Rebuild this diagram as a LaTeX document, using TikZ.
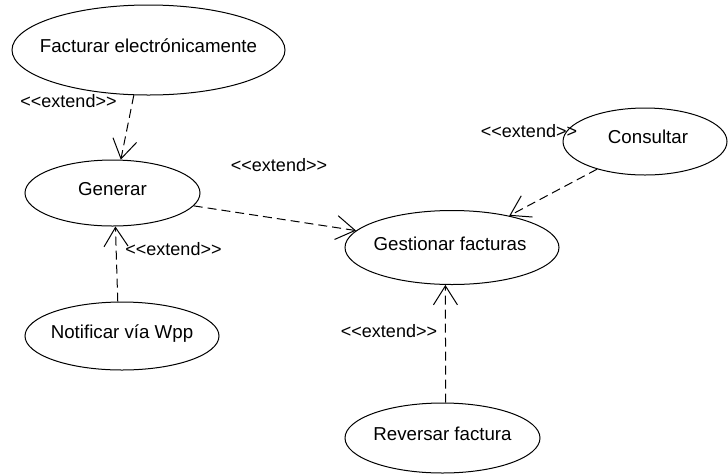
\documentclass[tikz,border=0pt]{standalone}
\usepackage{fontspec}
\setmainfont{Liberation Sans}[Ligatures=TeXOff]
\usetikzlibrary{shapes.geometric,arrows.meta}
\begin{document}
\begin{tikzpicture}[x=1pt,y=-1pt,
  usecase/.style={ellipse, draw, line width=1pt, inner sep=0pt},
  uctext/.style={font=\fontsize{18.7}{22}\selectfont, text height=13.5pt, text depth=0pt, inner sep=0pt},
  stereo/.style={font=\fontsize{18}{22}\selectfont, text height=13pt, text depth=0pt, inner sep=0pt},
  extends/.style={draw, line width=1pt, dash pattern=on 9pt off 5pt,
    -{Straight Barb[length=19pt,width=24pt]}}]
\useasboundingbox (0,0) rectangle (728,475);

% use cases
\node[usecase, minimum width=273pt, minimum height=90pt,
  label={[uctext, yshift=4pt]center:Facturar electrónicamente}] (fact) at (148.5,50) {};
\node[usecase, minimum width=175pt, minimum height=66pt,
  label={[uctext, yshift=4pt]center:Generar}] (gen) at (112.5,193) {};
\node[usecase, minimum width=194pt, minimum height=68pt,
  label={[uctext, yshift=4.5pt]center:Notificar vía Wpp}] (notif) at (122,336) {};
\node[usecase, minimum width=214pt, minimum height=74pt,
  label={[uctext, yshift=4pt, xshift=-2pt]center:Gestionar facturas}] (gest) at (452,247.5) {};
\node[usecase, minimum width=164pt, minimum height=67pt,
  label={[uctext, yshift=4.5pt, xshift=3pt]center:Consultar}] (cons) at (645,141.5) {};
\node[usecase, minimum width=195pt, minimum height=70pt,
  label={[uctext, yshift=4pt]center:Reversar factura}] (rev) at (442.5,438) {};

% extend relations
\draw[extends] (fact.-108) -- (gen.76);
\draw[extends] (gen.-9) -- (gest.170);
\draw[extends] (notif.97) -- (gen.-85);
\draw[extends] (cons.-150) -- (gest.29);
\draw[extends] (rev.85) -- (gest.-100);

% stereotypes
\node[stereo] (s1) at (68.5,101) {<<extend>>};
\node[stereo] (s2) at (279,165) {<<extend>>};
\node[stereo] (s3) at (173.5,249) {<<extend>>};
\node[stereo] (s4) at (529,131) {<<extend>>};
\node[stereo] (s5) at (389,331) {<<extend>>};
\end{tikzpicture}
\end{document}
